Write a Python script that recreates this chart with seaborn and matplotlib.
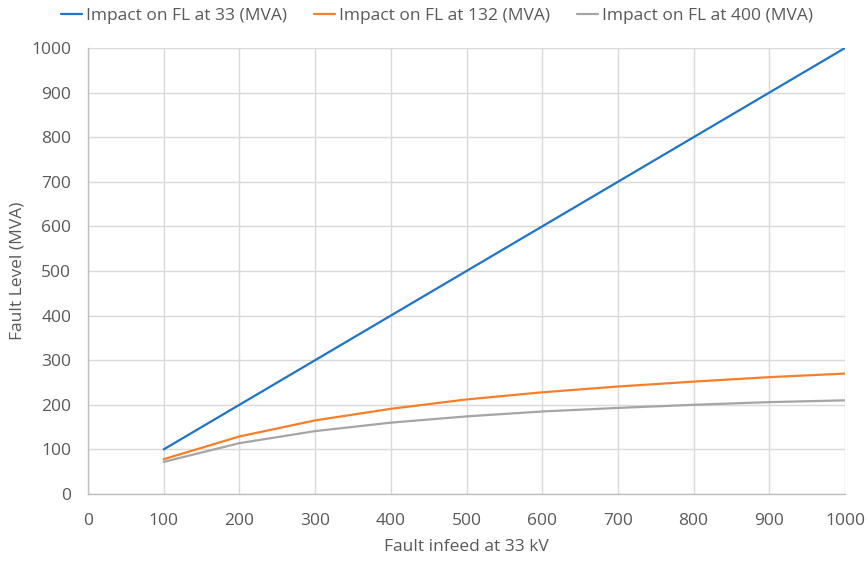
import matplotlib
matplotlib.use("Agg")
import matplotlib.pyplot as plt
import seaborn as sns
import pandas as pd

# Fault infeed at the 33 kV busbar (MVA)
infeed = [100, 200, 300, 400, 500, 600, 700, 800, 900, 1000]
fl_33 = [100, 200, 300, 400, 500, 600, 700, 800, 900, 1000]
fl_132 = [78, 129, 165, 191, 212, 228, 241, 252, 262, 270]
fl_400 = [72, 114, 141, 160, 174, 185, 193, 200, 206, 210]

series_names = ["Impact on FL at 33 (MVA)", "Impact on FL at 132 (MVA)",
                "Impact on FL at 400 (MVA)"]
colors = ["#1f74c9", "#f77f2a", "#a5a5a5"]
x_ticks = [0, 100, 200, 300, 400, 500, 600, 700, 800, 900, 1000]
y_ticks = [0, 100, 200, 300, 400, 500, 600, 700, 800, 900, 1000]

df = pd.DataFrame({
    "infeed": infeed * 3,
    "level": fl_33 + fl_132 + fl_400,
    "series": [series_names[0]] * len(infeed) + [series_names[1]] * len(infeed)
              + [series_names[2]] * len(infeed),
})

sns.set_theme(style="white")
plt.rcParams["font.family"] = ["Open Sans", "DejaVu Sans"]
text_color = "#595959"

fig = plt.figure(figsize=(8.67, 5.63), dpi=100)
ax = fig.add_axes([88 / 867, 1 - 494 / 563, (845 - 88) / 867, (494 - 48) / 563])

sns.lineplot(data=df, x="infeed", y="level", hue="series", palette=colors,
             linewidth=1.6, ax=ax, legend=True)

ax.set_xlim(0, 1000)
ax.set_ylim(0, 1000)
ax.set_xticks(x_ticks)
ax.set_yticks(y_ticks)
ax.tick_params(axis="both", labelsize=12.5, colors=text_color, length=0)
ax.tick_params(axis="x", pad=14)
ax.tick_params(axis="y", pad=12)
ax.grid(True, color="#d9d9d9", linewidth=1)
ax.set_axisbelow(True)
for side in ["top", "right"]:
    ax.spines[side].set_visible(False)
for side in ["left", "bottom"]:
    ax.spines[side].set_color("#bfbfbf")
    ax.spines[side].set_linewidth(1)

ax.set_xlabel("Fault infeed at 33 kV", fontsize=12.5, color=text_color, labelpad=7)
ax.set_ylabel("Fault Level (MVA)", fontsize=12.5, color=text_color, labelpad=4)

handles, labels = ax.get_legend_handles_labels()
ax.legend(handles, labels, loc="center", bbox_to_anchor=(437 / 867, 1 - 16 / 563),
          bbox_transform=fig.transFigure,
          ncol=3, frameon=False, fontsize=12.5, handlelength=1.2,
          handletextpad=0.2, columnspacing=1.6, labelcolor=text_color,
          borderaxespad=0)

fig.savefig("out.png", dpi=100, facecolor="white")
